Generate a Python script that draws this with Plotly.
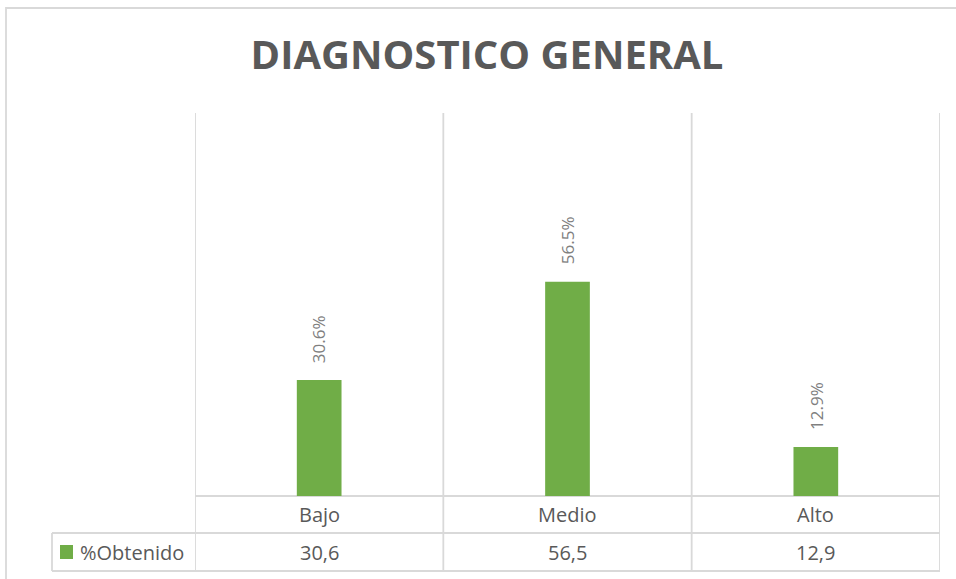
import plotly.graph_objects as go

categories = ["Bajo", "Medio", "Alto"]
values = [30.6, 56.5, 12.9]
series_name = "%Obtenido"
title_text = "DIAGNOSTICO GENERAL"

GREEN = "#70AD47"
GRID = "#D9D9D9"
TXT = "#595959"
LBL = "#7F7F7F"
FONT = "Open Sans"

W, H = 956, 579
ml, mr, mt, mb = 195, 16, 113, 83
pw = W - ml - mr
ph = H - mt - mb

def px_x(xpix):
    return (xpix - ml) / pw

def px_y(ypix):
    return (H - mb - ypix) / ph

fig = go.Figure()
fig.add_trace(go.Bar(
    x=categories, y=values, width=0.18,
    marker=dict(color=GREEN, line=dict(width=0)),
    name=series_name, showlegend=False, hoverinfo="skip",
))

# rotated data labels
for c, v in zip(categories, values):
    fig.add_annotation(
        x=c, y=v, xref="x", yref="y", text=f"{v:.1f}%", showarrow=False,
        textangle=-90, yanchor="bottom", xanchor="center", yshift=15,
        font=dict(family=FONT, size=17, color=LBL),
    )

row1_bot = px_y(533)
row2_bot = px_y(571)
leg_left = px_x(52)
n = len(categories)
bounds = [i - 0.5 for i in range(n + 1)]

shapes = []
line = dict(color=GRID, width=1.8)
# vertical gridlines at category boundaries, extending through data table
for b in bounds:
    shapes.append(dict(type="line", xref="x", yref="paper", x0=b, x1=b,
                       y0=1, y1=row2_bot, line=line, layer="below"))
# axis line / table top
shapes.append(dict(type="line", xref="x", yref="paper", x0=bounds[0], x1=bounds[-1],
                   y0=0, y1=0, line=line, layer="below"))
for yy in (row1_bot, row2_bot):
    shapes.append(dict(type="line", xref="paper", yref="paper", x0=leg_left, x1=1,
                       y0=yy, y1=yy, line=line, layer="below"))
shapes.append(dict(type="line", xref="paper", yref="paper", x0=leg_left, x1=leg_left,
                   y0=row1_bot, y1=row2_bot, line=line, layer="below"))
# outer chart border (cropped on right and bottom)
shapes.append(dict(type="rect", xref="paper", yref="paper", x0=px_x(6), x1=px_x(1000),
                   y0=px_y(650), y1=px_y(8), line=line, layer="below"))
# legend key square
shapes.append(dict(type="rect", xref="paper", yref="paper", x0=px_x(60), x1=px_x(73),
                   y0=px_y(559), y1=px_y(545), fillcolor=GREEN, line=dict(width=0)))

r1c = px_y((496 + 533) / 2)
r2c = px_y((533 + 571) / 2)
for c in categories:
    fig.add_annotation(x=c, y=r1c, xref="x", yref="paper", text=c, showarrow=False,
                       yanchor="middle", font=dict(family=FONT, size=20, color=TXT))
for c, v in zip(categories, values):
    fig.add_annotation(x=c, y=r2c, xref="x", yref="paper",
                       text=f"{v:.1f}".replace(".", ","), showarrow=False,
                       yanchor="middle", font=dict(family=FONT, size=20, color=TXT))
fig.add_annotation(x=px_x(78), y=r2c, xref="paper", yref="paper", text=series_name,
                   showarrow=False, xanchor="left", yanchor="middle",
                   font=dict(family=FONT, size=20, color=TXT))

fig.update_layout(
    width=W, height=H,
    margin=dict(l=ml, r=mr, t=mt, b=mb, pad=0),
    paper_bgcolor="white", plot_bgcolor="white",
    title=dict(text=f"<b>{title_text}</b>", x=487 / W, xref="container", xanchor="center",
               y=1 - 55 / H, yref="container", yanchor="middle",
               font=dict(family=FONT, size=40, color=TXT)),
    xaxis=dict(type="category", range=[-0.5, n - 0.5], showgrid=False, showline=False,
               zeroline=False, showticklabels=False, ticks="", fixedrange=True),
    yaxis=dict(range=[0, 101], showgrid=False, showline=False, zeroline=False,
               showticklabels=False, ticks="", fixedrange=True),
    shapes=shapes,
    showlegend=False,
)

fig.write_html("out.html")
